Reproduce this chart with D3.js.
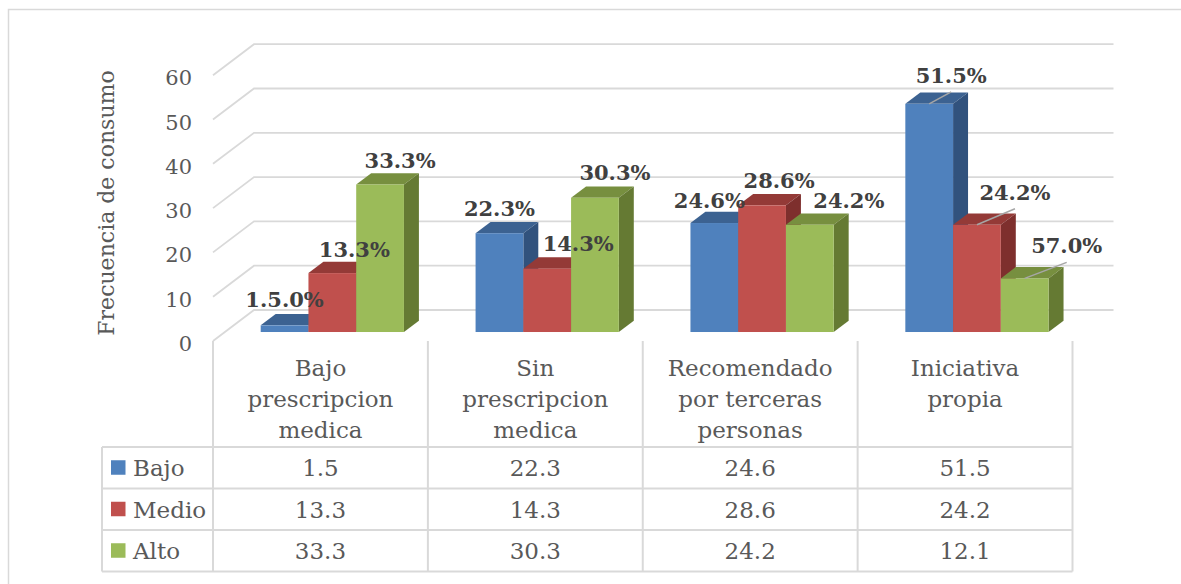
<!DOCTYPE html>
<html>
<head>
<meta charset="utf-8">
<script src="https://cdn.jsdelivr.net/npm/d3@7/dist/d3.min.js"></script>
<style>
  html, body { margin: 0; padding: 0; background: #ffffff; }
  svg { display: block; }
  text { font-family: "DejaVu Serif", "Liberation Serif", serif; }
</style>
</head>
<body>
<svg id="chart" width="1181" height="584"></svg>
<script>
// ---------- data ----------
const categories = [
  ["Bajo", "prescripcion", "medica"],
  ["Sin", "prescripcion", "medica"],
  ["Recomendado", "por terceras", "personas"],
  ["Iniciativa", "propia"]
];
const seriesNames = ["Bajo", "Medio", "Alto"];
const bajo  = [1.5, 22.3, 24.6, 51.5];
const medio = [13.3, 14.3, 28.6, 24.2];
const alto  = [33.3, 30.3, 24.2, 12.1];
const labelsBajo  = ["1.5.0%", "22.3%", "24.6%", "51.5%"];
const labelsMedio = ["13.3%", "14.3%", "28.6%", "24.2%"];
const labelsAlto  = ["33.3%", "30.3%", "24.2%", "57.0%"];
const yTicks = [0, 10, 20, 30, 40, 50, 60];

// ---------- layout / style ----------
const seriesValues = [bajo, medio, alto];
const seriesLabels = [labelsBajo, labelsMedio, labelsAlto];
const colors = [
  { front: "#4f81bd", top: "#3c6291", side: "#31527d" },
  { front: "#c0504d", top: "#943a37", side: "#7e2f2d" },
  { front: "#9bbb59", top: "#778f3f", side: "#657a33" }
];
// label offsets relative to the front-top centre of each bar [series][category]
const labelOffsets = [
  [[0, -18], [0, -17], [-5, -15], [22, -21]],
  [[22, -16], [31, -18], [17, -17], [38, -25]],
  [[20, -16], [20, -18], [39, -17], [42, -25]]
];
const leaderLines = [
  [false, false, false, true],
  [false, false, false, true],
  [false, false, false, true]
];

const svg = d3.select("#chart");
const catKeys = categories.map((c, i) => "c" + i);

const frontLeft = 213, frontRight = 1072.5, floorY = 341;
const depthDX = 41, depthDY = 31;
const barD0 = 0.29, barD1 = 0.655;

const x = d3.scaleBand().domain(catKeys).range([frontLeft, frontRight]).paddingInner(0).paddingOuter(0);
const xi = d3.scaleBand().domain(seriesNames).range([0, x.bandwidth()]).paddingInner(0).paddingOuter(0.75);
const y = d3.scaleLinear().domain([0, 60]).range([floorY, floorY - 265.8]);

function proj(xw, v, d) {
  return [xw + depthDX * d, y(v) - depthDY * d];
}

// ---------- outer frame ----------
svg.append("rect").attr("x", 8.5).attr("y", 9.5).attr("width", 1200).attr("height", 600)
  .attr("fill", "none").attr("stroke", "#d9d9d9").attr("stroke-width", 1.5);

// ---------- gridlines ----------
const grid = svg.append("g");
yTicks.forEach(v => {
  const a = proj(frontLeft, v, 0), b = proj(frontLeft, v, 1), c = proj(frontRight, v, 1);
  grid.append("path")
    .attr("d", `M${a[0]},${a[1]}L${b[0]},${b[1]}L${c[0]},${c[1]}`)
    .attr("fill", "none").attr("stroke", "#d9d9d9").attr("stroke-width", 1.8);
});

// ---------- tick labels ----------
const tickG = svg.append("g");
yTicks.forEach(v => {
  tickG.append("text")
    .attr("x", 192).attr("y", y(v) + 10)
    .attr("text-anchor", "end")
    .attr("font-size", 21).attr("fill", "#595959")
    .text(v);
});

// axis title
svg.append("text")
  .attr("transform", "translate(114,203) rotate(-90)")
  .attr("text-anchor", "middle")
  .attr("font-size", 22).attr("fill", "#595959")
  .text("Frecuencia de consumo");

// ---------- bars ----------
const barsG = svg.append("g");
const poly = pts => "M" + pts.map(p => p.join(",")).join("L") + "Z";
const labelData = [];
catKeys.forEach((ck, ci) => {
  seriesNames.forEach((s, si) => {
    const v = seriesValues[si][ci];
    const x0 = x(ck) + xi(s), x1 = x0 + xi.bandwidth();
    const c = colors[si];
    barsG.append("path").attr("d", poly([proj(x0, v, barD0), proj(x1, v, barD0), proj(x1, v, barD1), proj(x0, v, barD1)]))
      .attr("fill", c.top);
    barsG.append("path").attr("d", poly([proj(x1, 0, barD0), proj(x1, v, barD0), proj(x1, v, barD1), proj(x1, 0, barD1)]))
      .attr("fill", c.side);
    const fTL = proj(x0, v, barD0), fBR = proj(x1, 0, barD0);
    barsG.append("rect").attr("x", fTL[0]).attr("y", fTL[1])
      .attr("width", fBR[0] - fTL[0]).attr("height", fBR[1] - fTL[1])
      .attr("fill", c.front);
    const fc = proj((x0 + x1) / 2, v, barD0);
    const off = labelOffsets[si][ci];
    labelData.push({ fc, lx: fc[0] + off[0], ly: fc[1] + off[1], text: seriesLabels[si][ci], leader: leaderLines[si][ci] });
  });
});

// ---------- data labels ----------
const labG = svg.append("g");
labelData.forEach(d => {
  if (d.leader) {
    labG.append("line")
      .attr("x1", d.fc[0]).attr("y1", d.fc[1])
      .attr("x2", d.lx).attr("y2", d.ly + 9)
      .attr("stroke", "#a6a6a6").attr("stroke-width", 1.5);
  }
  labG.append("text")
    .attr("x", d.lx).attr("y", d.ly)
    .attr("text-anchor", "middle")
    .attr("font-size", 21).attr("font-weight", "bold").attr("fill", "#404040")
    .text(d.text);
});

// ---------- data table ----------
const tab = svg.append("g");
const tableLeft = 102;
const rowY = [447, 488.5, 530, 571.5];
const lineStyle = sel => sel.attr("stroke", "#d9d9d9").attr("stroke-width", 2);
catKeys.forEach(ck => {
  lineStyle(tab.append("line").attr("x1", x(ck)).attr("x2", x(ck)).attr("y1", floorY).attr("y2", rowY[3]));
});
lineStyle(tab.append("line").attr("x1", frontRight).attr("x2", frontRight).attr("y1", floorY).attr("y2", rowY[3]));
lineStyle(tab.append("line").attr("x1", tableLeft).attr("x2", tableLeft).attr("y1", rowY[0]).attr("y2", rowY[3]));
rowY.forEach(ry => {
  lineStyle(tab.append("line").attr("x1", tableLeft).attr("x2", frontRight).attr("y1", ry).attr("y2", ry));
});

categories.forEach((lines, ci) => {
  const cx = x(catKeys[ci]) + x.bandwidth() / 2;
  lines.forEach((ln, li) => {
    tab.append("text")
      .attr("x", cx).attr("y", 376 + li * 31)
      .attr("text-anchor", "middle")
      .attr("font-size", 23).attr("fill", "#595959")
      .text(ln);
  });
});

seriesNames.forEach((s, si) => {
  const midY = (rowY[si] + rowY[si + 1]) / 2;
  tab.append("rect").attr("x", 111).attr("y", midY - 7.5).attr("width", 14.5).attr("height", 14.5)
    .attr("fill", colors[si].front);
  tab.append("text").attr("x", 133).attr("y", midY + 8.5)
    .attr("font-size", 23).attr("fill", "#595959").text(s);
  catKeys.forEach((ck, ci) => {
    tab.append("text")
      .attr("x", x(ck) + x.bandwidth() / 2).attr("y", midY + 8.5)
      .attr("text-anchor", "middle")
      .attr("font-size", 23).attr("fill", "#595959")
      .text(seriesValues[si][ci]);
  });
});
</script>
</body>
</html>
